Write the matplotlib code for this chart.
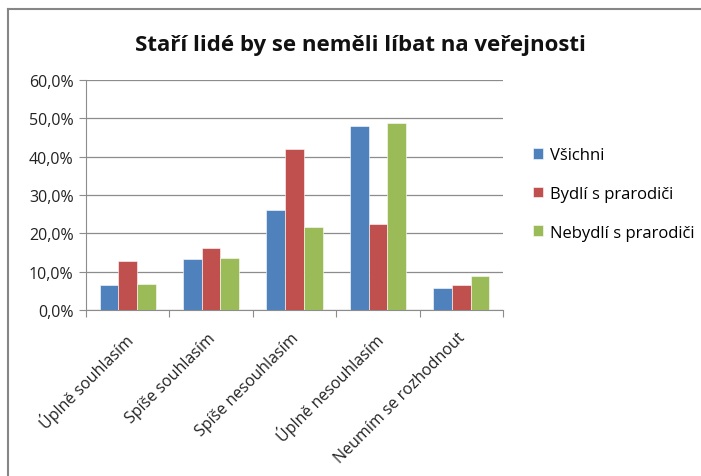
import numpy as np
import matplotlib.pyplot as plt
import matplotlib.transforms as mtransforms
from matplotlib.lines import Line2D

categories = ['Úplně souhlasím', 'Spíše souhlasím', 'Spíše nesouhlasím',
              'Úplně nesouhlasím', 'Neumím se rozhodnout']
series_names = ['Všichni', 'Bydlí s prarodiči', 'Nebydlí s prarodiči']
vsichni = [6.4, 13.2, 26.1, 47.9, 5.8]
bydli = [12.8, 16.1, 41.9, 22.5, 6.5]
nebydli = [6.7, 13.5, 21.6, 48.9, 8.9]
colors = ['#4F81BD', '#C0504D', '#9BBB59']

plt.rcParams['font.family'] = ['Open Sans', 'DejaVu Sans']

fig = plt.figure(figsize=(7.01, 4.77), dpi=100)
ax = fig.add_axes([86 / 701, 1 - 311 / 477, 417 / 701, 230 / 477])

x = np.arange(len(categories))
w = 0.224
for i, (vals, name) in enumerate(zip([vsichni, bydli, nebydli], series_names)):
    ax.bar(x + (i - 1) * w, vals, w, color=colors[i], label=name, zorder=3,
           edgecolor='white', linewidth=0.4)

ax.set_xlim(-0.5, len(categories) - 0.5)
ax.set_ylim(0, 60)
ax.set_yticks(np.arange(0, 61, 10))
ax.set_yticklabels([f'{v:.1f}%'.replace('.', ',') for v in np.arange(0, 61, 10)],
                   fontsize=11.5, color='#222222')
ax.yaxis.grid(True, color='#8c8c8c', linewidth=0.9, zorder=0)

ax.set_xticks(np.arange(-0.5, len(categories), 1))
ax.set_xticklabels([])
ax.set_xticks(x, minor=True)
ax.set_xticklabels(categories, minor=True, rotation=45, ha='right',
                   rotation_mode='anchor', fontsize=11.5, color='#222222')
ax.tick_params(axis='x', which='minor', length=0, pad=14)
ax.tick_params(axis='x', which='major', length=5, color='#8c8c8c', direction='out')
ax.tick_params(axis='y', length=5, color='#8c8c8c', direction='out', pad=4)
shift = mtransforms.ScaledTranslation(-4 / 100, 0, fig.dpi_scale_trans)
for lbl in ax.get_xticklabels(minor=True):
    lbl.set_transform(lbl.get_transform() + shift)

for s in ['top', 'right']:
    ax.spines[s].set_visible(False)
ax.spines['left'].set_color('#8c8c8c')
ax.spines['bottom'].set_color('#8c8c8c')

fig.text(360 / 701, 1 - 45 / 477, 'Staří lidé by se neměli líbat na veřejnosti',
         ha='center', va='center', fontsize=16, fontweight='bold', color='#111111')

ax.legend(loc='center left', bbox_to_anchor=(518 / 701, 1 - 195 / 477),
          bbox_transform=fig.transFigure, frameon=False, fontsize=12,
          handlelength=0.6, handleheight=0.6, handletextpad=0.4, labelspacing=1.35)

# outer chart border (left and top edges visible)
fig.add_artist(Line2D([8 / 701, 8 / 701], [0, 1 - 10 / 477], transform=fig.transFigure,
                      color='#868686', linewidth=1.5))
fig.add_artist(Line2D([8 / 701, 1], [1 - 10 / 477, 1 - 10 / 477], transform=fig.transFigure,
                      color='#868686', linewidth=1.5))

fig.savefig('out.png', dpi=100)
